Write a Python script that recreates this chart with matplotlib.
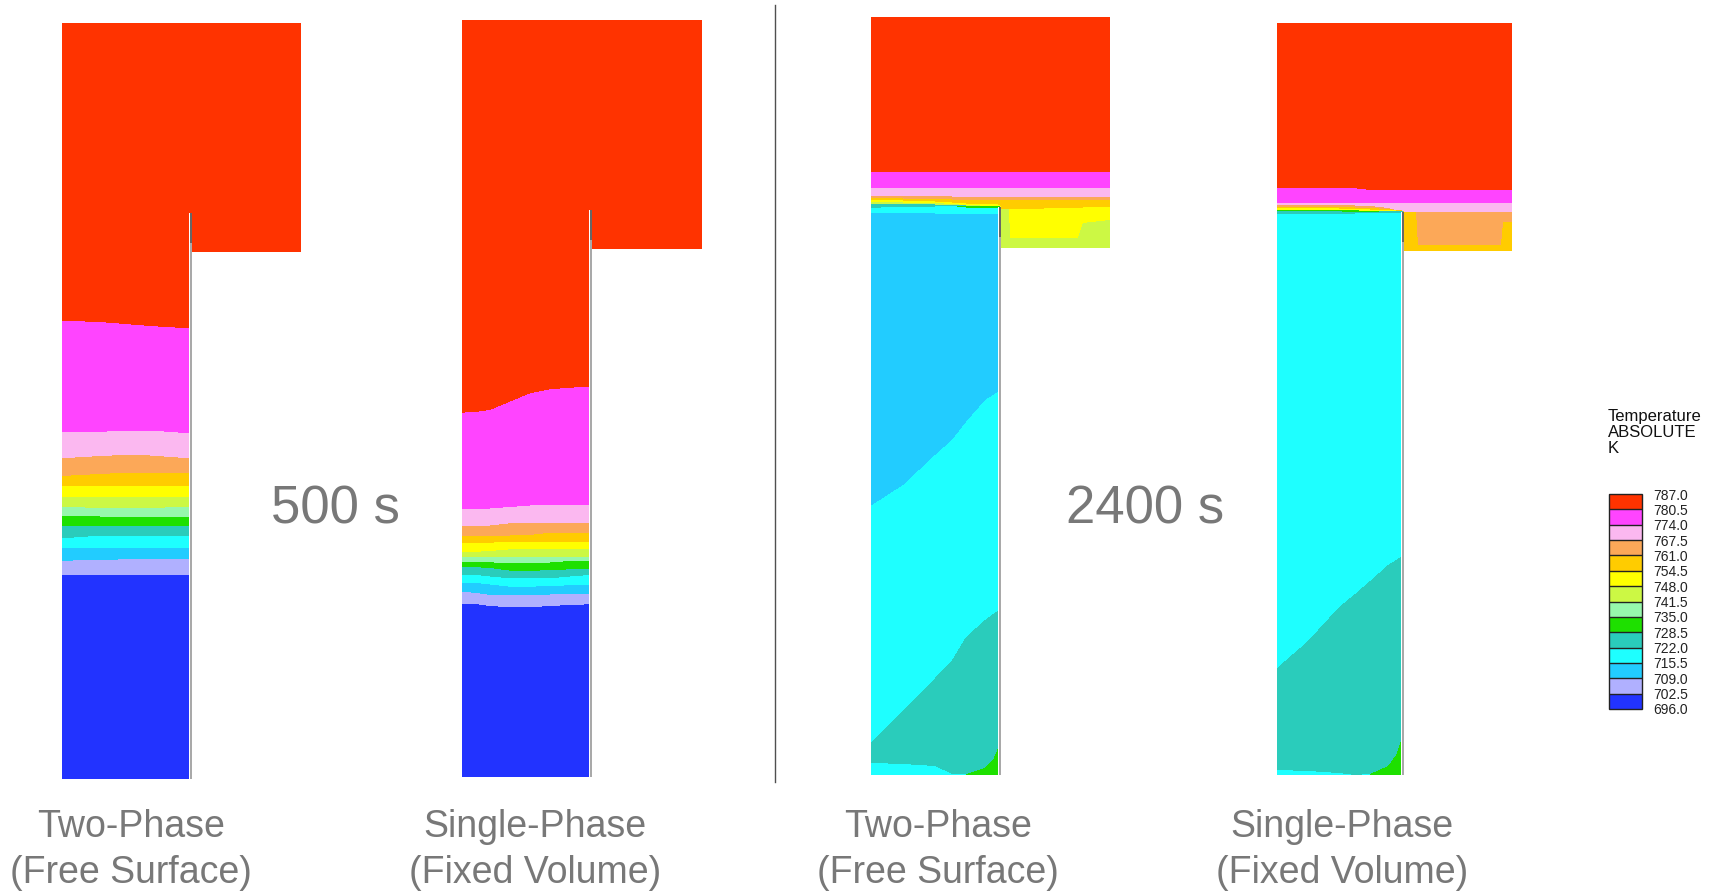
import numpy as np
import matplotlib
matplotlib.use("Agg")
import matplotlib.pyplot as plt
from matplotlib.colors import ListedColormap, BoundaryNorm
import matplotlib.cm as cm

plt.rcParams["font.family"] = ["Liberation Sans", "DejaVu Sans"]

# ---- temperature scale (K) ----
levels = [696.0, 702.5, 709.0, 715.5, 722.0, 728.5, 735.0, 741.5,
          748.0, 754.5, 761.0, 767.5, 774.0, 780.5, 787.0]
band_colors = ["#2233FF", "#B0B0FF", "#22CCFF", "#1EFFFF", "#2ACCBB",
               "#1EE000", "#96F8AC", "#CCF844", "#FFFF00", "#FFCC00",
               "#FCA858", "#FBB8F0", "#FF44FF", "#FF3300"]

# representative temperature of each band
BLUE, LAV, SKY, CYAN, TEAL, GREEN = 699.25, 705.75, 712.25, 718.75, 725.25, 731.75
LGREEN, YGREEN, YELLOW, GOLD, ORANGE = 738.25, 744.75, 751.25, 757.75, 764.25
PINK, MAGENTA, RED = 770.75, 777.25, 783.75

# ---- mould geometry (left, column right, wall x, box right, top, wall top, box bottom, bottom) ----
geom_500_two = (62, 189, 191, 301, 23, 213, 252, 779)
geom_500_single = (462, 589, 591, 702, 20, 210, 249, 777)
geom_2400_two = (871, 998, 1000, 1110, 17, 207, 248, 775)
geom_2400_single = (1277, 1401, 1403, 1512, 23, 212, 251, 775)

# ---- isotherm depths: (band temperature, lower boundary depth at each x station) ----
x_500_two = [62, 100, 125, 150, 189]
layers_500_two = [
    (RED,     [320.7, 322.0, 324.0, 326.0, 328.3]),
    (MAGENTA, [431.7, 431.7, 431.0, 430.5, 433.3]),
    (PINK,    [458.3, 456.0, 455.0, 455.5, 458.3]),
    (ORANGE,  [476.0, 474.0, 472.7, 472.7, 472.7]),
    (GOLD,    [485.7, 485.7, 485.7, 485.7, 485.7]),
    (YELLOW,  [497.3, 497.3, 497.3, 497.3, 497.3]),
    (YGREEN,  [506.7, 508.0, 508.3, 508.0, 506.7]),
    (LGREEN,  [515.7, 516.5, 517.3, 517.3, 517.3]),
    (GREEN,   [525.7, 525.7, 525.7, 525.7, 525.7]),
    (TEAL,    [538.3, 535.7, 535.7, 535.7, 535.7]),
    (CYAN,    [547.7, 547.7, 547.7, 547.7, 547.7]),
    (SKY,     [560.7, 560.0, 559.3, 559.3, 559.3]),
    (LAV,     [575.3, 575.3, 575.3, 575.3, 575.3]),
    (BLUE,    [800.0, 800.0, 800.0, 800.0, 800.0]),
]
x_500_two_pocket = [192, 301]
layers_500_two_pocket = [(RED, [300.0, 300.0])]

x_500_single = [462, 477, 490, 510, 530, 550, 570, 589]
layers_500_single = [
    (RED,     [412.7, 411.7, 410.0, 401.7, 393.3, 389.3, 387.7, 386.7]),
    (MAGENTA, [509.3, 509.0, 508.5, 507.0, 505.5, 505.0, 505.0, 505.0]),
    (PINK,    [526.0, 526.0, 525.5, 523.3, 523.0, 522.7, 522.7, 522.7]),
    (ORANGE,  [535.7, 535.7, 535.7, 535.5, 535.0, 532.7, 532.7, 532.7]),
    (GOLD,    [542.7, 542.7, 542.7, 541.7, 541.7, 541.7, 541.7, 541.7]),
    (YELLOW,  [551.7, 551.7, 551.0, 549.3, 549.3, 549.3, 549.3, 549.3]),
    (YGREEN,  [557.3, 557.3, 557.0, 556.7, 556.7, 556.7, 556.7, 556.7]),
    (LGREEN,  [562.3, 562.3, 562.3, 563.3, 563.3, 562.5, 561.0, 561.0]),
    (GREEN,   [567.3, 567.3, 568.0, 570.7, 570.7, 570.3, 569.3, 569.3]),
    (TEAL,    [575.0, 575.0, 576.5, 578.3, 578.3, 578.3, 576.5, 575.0]),
    (CYAN,    [582.7, 583.0, 584.5, 586.7, 586.7, 586.0, 585.3, 585.0]),
    (SKY,     [591.7, 593.0, 595.0, 595.0, 595.0, 594.5, 594.0, 594.0]),
    (LAV,     [604.3, 604.3, 606.0, 607.3, 607.3, 606.0, 605.0, 604.3]),
    (BLUE,    [800.0, 800.0, 800.0, 800.0, 800.0, 800.0, 800.0, 800.0]),
]
x_500_single_pocket = [592, 702]
layers_500_single_pocket = [(RED, [300.0, 300.0])]

x_2400_two = [872, 903, 935, 952, 966, 985, 993, 998, 1002]
layers_2400_two = [
    (RED,     [172.3, 172.3, 172.3, 172.3, 172.3, 172.3, 172.3, 172.3, 172.3]),
    (MAGENTA, [188.3, 188.3, 188.3, 188.3, 188.3, 188.3, 188.3, 188.3, 188.3]),
    (PINK,    [195.7, 195.7, 196.0, 196.5, 196.7, 196.7, 196.7, 196.7, 196.7]),
    (ORANGE,  [198.3, 198.5, 199.0, 199.5, 200.0, 200.0, 200.0, 200.0, 200.0]),
    (GOLD,    [200.0, 200.5, 201.5, 202.5, 203.5, 204.3, 204.3, 204.3, 207.5]),
    (YELLOW,  [202.3, 202.5, 203.0, 204.0, 205.0, 205.7, 205.7, 205.7, 207.5]),
    (YGREEN,  [204.3, 204.3, 204.5, 205.0, 205.5, 205.7, 205.7, 205.7, 207.5]),
    (TEAL,    [207.7, 207.0, 206.5, 206.0, 205.7, 205.7, 205.7, 205.7, 207.5]),
    (GREEN,   [207.7, 207.0, 206.5, 206.0, 207.5, 208.3, 208.3, 208.3, 208.3]),
    (CYAN,    [213.3, 213.3, 213.5, 214.0, 214.3, 214.3, 214.3, 214.3, 214.3]),
    (SKY,     [505.0, 485.0, 455.0, 440.0, 422.0, 400.0, 395.0, 392.0, 392.0]),
    (CYAN,    [742.0, 711.0, 678.0, 660.0, 637.0, 620.0, 614.0, 611.0, 611.0]),
    (TEAL,    [763.0, 764.0, 766.0, 774.0, 774.0, 768.0, 760.0, 748.0, 748.0]),
    (CYAN,    [800.0, 800.0, 800.0, 800.0, 774.0, 768.0, 760.0, 748.0, 748.0]),
    (GREEN,   [800.0, 800.0, 800.0, 800.0, 800.0, 800.0, 800.0, 800.0, 800.0]),
]
x_2400_two_pocket = [1001, 1009, 1010, 1078, 1083, 1110]
layers_2400_two_pocket = [
    (GOLD,    [209.0, 209.0, 209.0, 208.0, 207.5, 207.5]),
    (YELLOW,  [209.0, 209.0, 238.0, 238.0, 223.0, 220.0]),
    (YGREEN,  [260.0, 260.0, 260.0, 260.0, 260.0, 260.0]),
]

x_2400_single = [1277, 1308, 1339, 1355, 1370, 1388, 1396, 1401, 1405]
layers_2400_single = [
    (RED,     [188.3, 188.3, 188.3, 188.3, 190.0, 190.0, 190.0, 190.0, 190.0]),
    (MAGENTA, [202.7, 202.7, 202.7, 202.7, 203.3, 203.3, 203.3, 203.3, 203.3]),
    (PINK,    [205.0, 205.0, 205.0, 205.5, 206.0, 208.0, 210.0, 210.0, 212.0]),
    (ORANGE,  [207.0, 207.0, 207.0, 207.5, 208.0, 209.0, 210.0, 210.0, 212.0]),
    (GOLD,    [208.5, 208.5, 208.5, 209.0, 209.5, 210.0, 210.5, 211.0, 212.0]),
    (YELLOW,  [210.0, 210.0, 210.0, 210.3, 211.0, 211.0, 211.0, 211.0, 212.0]),
    (GREEN,   [211.0, 211.0, 211.3, 212.3, 211.7, 211.3, 211.0, 211.0, 212.0]),
    (TEAL,    [214.5, 214.0, 213.7, 213.5, 213.3, 213.0, 213.0, 213.0, 213.0]),
    (CYAN,    [668.0, 641.0, 607.0, 594.0, 581.0, 565.0, 560.0, 557.0, 557.0]),
    (TEAL,    [770.0, 771.0, 773.0, 775.0, 774.0, 766.0, 755.0, 741.0, 741.0]),
    (CYAN,    [800.0, 800.0, 800.0, 800.0, 774.0, 766.0, 755.0, 741.0, 741.0]),
    (GREEN,   [800.0, 800.0, 800.0, 800.0, 800.0, 800.0, 800.0, 800.0, 800.0]),
]
x_2400_single_pocket = [1404, 1416, 1418, 1501, 1503, 1512]
layers_2400_single_pocket = [
    (PINK,    [212.0, 212.0, 212.0, 212.0, 212.0, 212.0]),
    (ORANGE,  [212.0, 212.0, 245.0, 245.0, 222.0, 222.0]),
    (GOLD,    [260.0, 260.0, 260.0, 260.0, 260.0, 260.0]),
]

time_labels = ["500 s", "2400 s"]
case_labels = ["Two-Phase\n(Free Surface)", "Single-Phase\n(Fixed Volume)",
               "Two-Phase\n(Free Surface)", "Single-Phase\n(Fixed Volume)"]

cmap = ListedColormap(band_colors)
norm = BoundaryNorm(levels, cmap.N)


def band_field(xs, ys, x_st, layers):
    """Temperature on a pixel grid from isotherm depths sampled at x stations."""
    temps = np.array([t for t, _ in layers])
    depth = np.array([np.interp(xs, x_st, b) for _, b in layers])
    idx = (ys[:, None, None] >= depth[None, :, :]).sum(axis=1)
    idx = np.clip(idx, 0, len(temps) - 1)
    return temps[idx]


def draw_mould(ax, geom, x_main, main, x_pocket, pocket):
    left, col_r, wall_x, box_r, top, wall_top, box_bot, bottom = geom
    xs = np.arange(left, box_r) + 0.5
    ys = np.arange(top, bottom) + 0.5
    T = band_field(xs, ys, x_main, main)
    Tp = band_field(xs, ys, x_pocket, pocket)
    X, Y = np.meshgrid(xs, ys)
    in_pocket = (X > wall_x + 1) & (Y > wall_top) & (Y <= box_bot)
    T = np.where(in_pocket, Tp, T)
    inside = ((Y <= box_bot) & ((X <= col_r) | (Y <= wall_top) | (X > wall_x + 1))) | (X <= col_r)
    T = np.ma.masked_where(~inside, T)
    ax.imshow(T, cmap=cmap, norm=norm, extent=(left, box_r, bottom, top),
              origin="upper", interpolation="nearest", aspect="auto", zorder=1)
    # thin wall between the casting and the riser pocket
    ax.plot([wall_x, wall_x], [wall_top, bottom], color="#a0a0a0", lw=1.3,
            solid_capstyle="butt", zorder=3)
    ax.plot([wall_x, wall_x], [wall_top, wall_top + 30], color="#606060", lw=1.3,
            solid_capstyle="butt", zorder=4)


fig = plt.figure(figsize=(17.11, 8.93), dpi=100)
ax = fig.add_axes([0, 0, 1, 1])

draw_mould(ax, geom_500_two, x_500_two, layers_500_two,
           x_500_two_pocket, layers_500_two_pocket)
draw_mould(ax, geom_500_single, x_500_single, layers_500_single,
           x_500_single_pocket, layers_500_single_pocket)
draw_mould(ax, geom_2400_two, x_2400_two, layers_2400_two,
           x_2400_two_pocket, layers_2400_two_pocket)
draw_mould(ax, geom_2400_single, x_2400_single, layers_2400_single,
           x_2400_single_pocket, layers_2400_single_pocket)

# separator between the two instants
ax.plot([775, 775], [5, 782], color="#505050", lw=1.0, zorder=2)

text_gray = "#787878"
ax.text(335, 510, time_labels[0], fontsize=38, color=text_gray, ha="center", va="center")
ax.text(1145, 510, time_labels[1], fontsize=38, color=text_gray, ha="center", va="center")

for cx, lab in zip([131, 535, 938, 1342], case_labels):
    ax.text(cx, 850, lab, fontsize=27, color=text_gray, ha="center", va="center",
            linespacing=1.38)

ax.set_xlim(0, 1711)
ax.set_ylim(893, 0)
ax.axis("off")

# temperature legend
ax.text(1608, 409, "Temperature\nABSOLUTE\nK", fontsize=12, color="#111111",
        ha="left", va="top", linespacing=1.1)
cax = fig.add_axes([1609 / 1711, 1 - 709 / 893, 33 / 1711, 215 / 893])
sm = cm.ScalarMappable(norm=norm, cmap=cmap)
cb = fig.colorbar(sm, cax=cax, ticks=levels, drawedges=True)
cb.ax.set_yticklabels([f"{v:.1f}" for v in levels])
cb.ax.tick_params(length=0, labelsize=10, pad=8, colors="#222222")
cb.outline.set_edgecolor("#222222")
cb.outline.set_linewidth(1.0)
cb.dividers.set_color("#222222")
cb.dividers.set_linewidth(1.0)

fig.savefig("out.png", dpi=100, facecolor="white")
